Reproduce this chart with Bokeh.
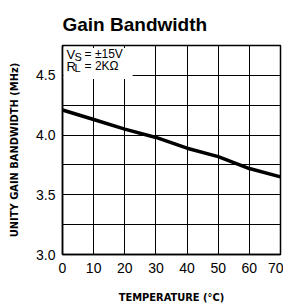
from bokeh.plotting import figure
from bokeh.models import FixedTicker, Label, Range1d
from bokeh.embed import file_html
from bokeh.resources import INLINE

# ---- data ----
temp_c = [0, 10, 20, 30, 40, 50, 60, 70]
gbw_mhz = [4.21, 4.13, 4.05, 3.98, 3.89, 3.82, 3.72, 3.65]

x_ticks = [0, 10, 20, 30, 40, 50, 60, 70]
x_tick_labels = ["0", "10", "20", "30", "40", "50", "60", "70"]
y_ticks = [3.0, 3.5, 4.0, 4.5]
y_tick_labels = ["3.0", "3.5", "4.0", "4.5"]
y_grid = [3.0, 3.25, 3.5, 3.75, 4.0, 4.25, 4.5, 4.75]

title_text = "Gain Bandwidth"
x_label = "TEMPERATURE (°C)"
y_label = "UNITY GAIN BANDWIDTH (MHz)"

NORMAL = "'Liberation Sans', Arial, sans-serif"
BOLDLBL = "'Liberation Sans Narrow', 'DejaVu Sans Condensed', 'Liberation Sans', sans-serif"

p = figure(width=283, height=306,
           x_range=Range1d(0, 70), y_range=Range1d(3.0, 4.75),
           output_backend="svg", toolbar_location=None,
           min_border_left=62, min_border_right=3,
           min_border_top=41, min_border_bottom=50)

p.background_fill_color = "white"
p.border_fill_color = "white"
p.outline_line_color = "black"
p.outline_line_width = 1.5

# title
p.title.text = title_text
p.title.text_font = NORMAL
p.title.text_font_size = "19px"
p.title.text_font_style = "bold"
p.title.text_color = "black"
p.title.align = "left"
p.title.standoff = 22

# axes
for ax in (p.xaxis[0], p.yaxis[0]):
    ax.axis_line_color = "black"
    ax.axis_line_width = 1.5
    ax.major_tick_in = 0
    ax.major_tick_out = 0
    ax.minor_tick_in = 0
    ax.minor_tick_out = 0
    ax.major_label_text_font = NORMAL
    ax.major_label_text_font_size = "14px"
    ax.major_label_text_color = "black"
    ax.axis_label_text_font = BOLDLBL
    ax.axis_label_text_font_style = "bold"
    ax.axis_label_text_color = "black"

p.xaxis.ticker = FixedTicker(ticks=x_ticks)
p.xaxis.major_label_overrides = {t: s for t, s in zip(x_ticks, x_tick_labels)}
p.yaxis.ticker = FixedTicker(ticks=y_ticks)
p.yaxis.major_label_overrides = {t: s for t, s in zip(y_ticks, y_tick_labels)}

p.xaxis.axis_label = x_label
p.xaxis.axis_label_text_font_size = "11px"
p.xaxis.major_label_standoff = 8
p.xaxis.axis_label_standoff = 15

p.yaxis.axis_label = y_label
p.yaxis.axis_label_text_font_size = "11px"
p.yaxis.major_label_standoff = 7
p.yaxis.axis_label_standoff = 12

# grid
p.xgrid.ticker = FixedTicker(ticks=x_ticks)
p.ygrid.ticker = FixedTicker(ticks=y_grid)
p.xgrid.grid_line_color = "black"
p.ygrid.grid_line_color = "black"
p.xgrid.grid_line_width = 1
p.ygrid.grid_line_width = 1

# white box behind the condition text
p.quad(left=[0.3], right=[22.5], bottom=[4.47], top=[4.73],
       fill_color="white", line_color=None)

# curve
p.line(temp_c, gbw_mhz, line_color="black", line_width=3.5)

# condition text with subscripts
ax0, ay0 = 1.3, 4.735
parts = [
    ("V", 0, 0, "13px"),
    ("S", 8, -4, "11px"),
    ("= ±15V", 18, 0, "12px"),
    ("R", 0, -12, "13px"),
    ("L", 8, -15, "11px"),
    ("= 2KΩ", 18, -12, "12px"),
]
for txt, dx, dy, fs in parts:
    p.add_layout(Label(x=ax0, y=ay0, x_offset=dx, y_offset=dy, text=txt,
                       text_font=NORMAL, text_font_size=fs, text_color="black",
                       text_baseline="top", text_align="left"))

open("out.html", "w").write(file_html(p, INLINE))
